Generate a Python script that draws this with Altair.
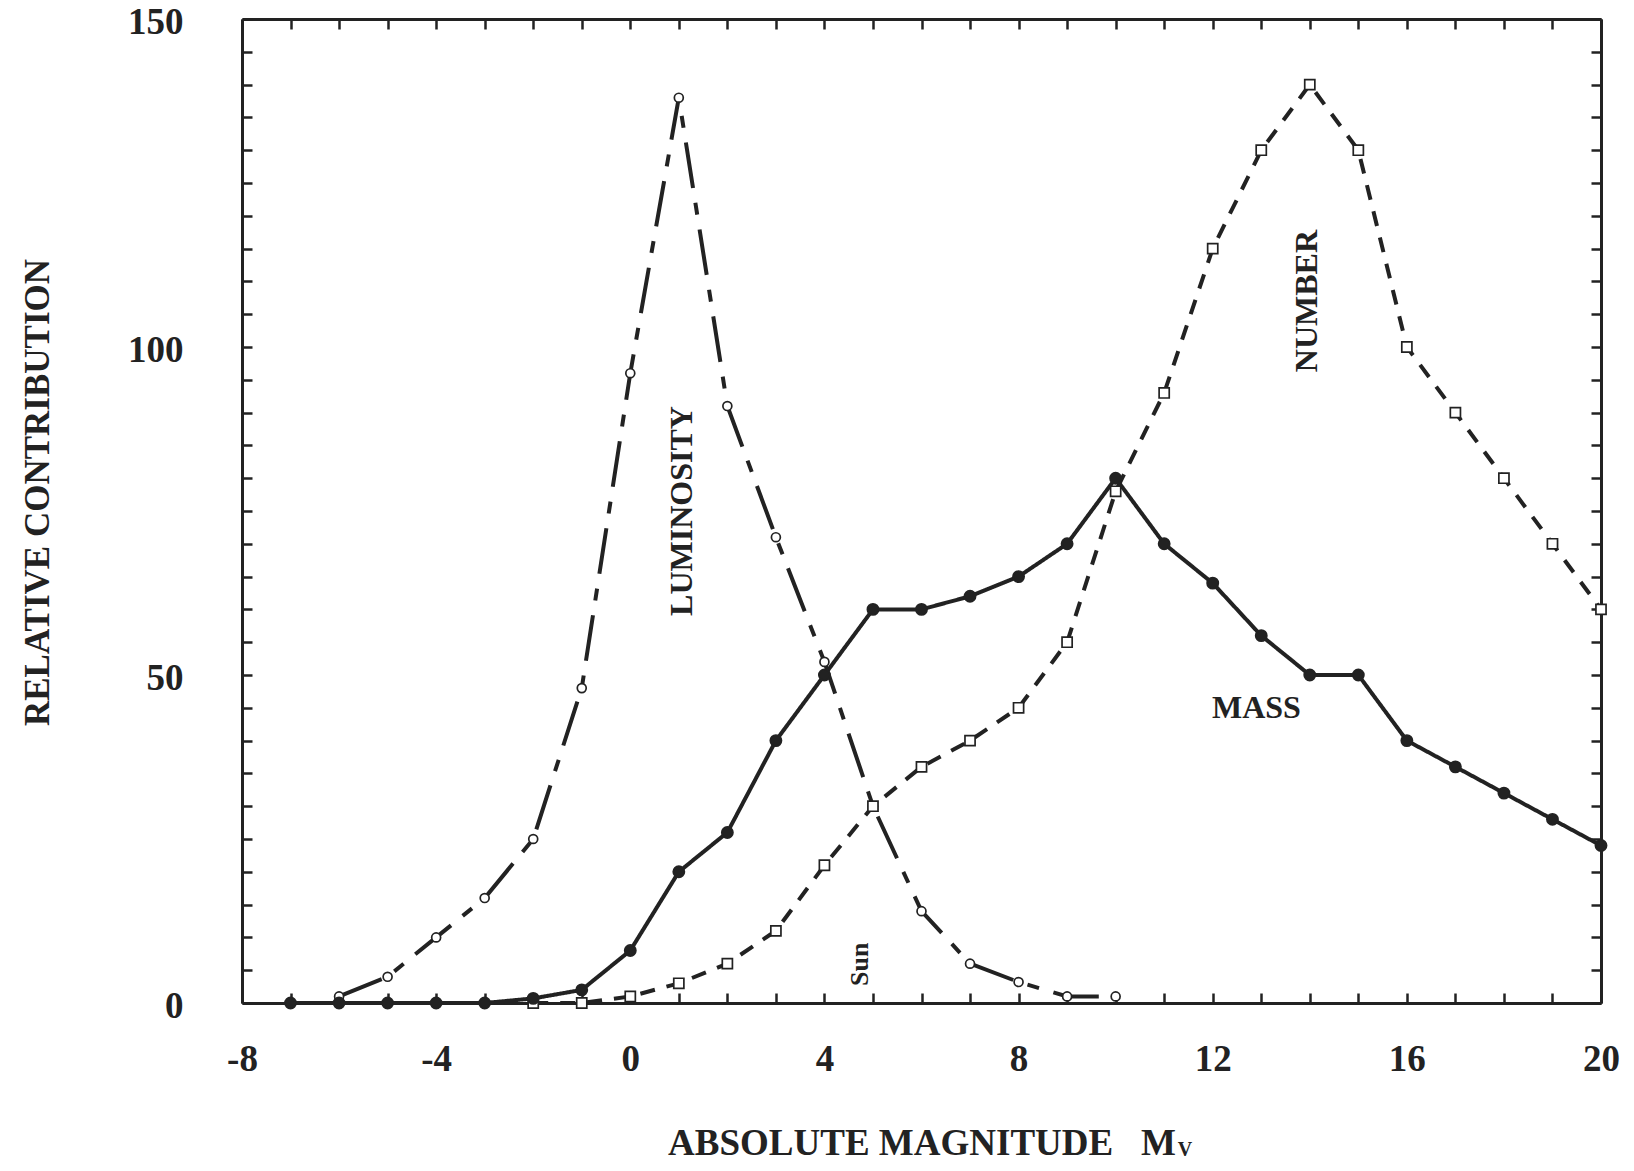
import altair as alt
import pandas as pd

# ---------------- data ----------------
lum_M = [-6, -5, -4, -3, -2, -1, 0, 1, 2, 3, 4, 5, 6, 7, 8, 9, 10]
lum_v = [1, 4, 10, 16, 25, 48, 96, 138, 91, 71, 52, 30, 14, 6, 3.2, 1, 1]

num_M = [-2, -1, 0, 1, 2, 3, 4, 5, 6, 7, 8, 9, 10, 11, 12, 13, 14, 15, 16, 17, 18, 19, 20]
num_v = [0, 0, 1, 3, 6, 11, 21, 30, 36, 40, 45, 55, 78, 93, 115, 130, 140, 130, 100, 90, 80, 70, 60]

mass_M = [-7, -6, -5, -4, -3, -2, -1, 0, 1, 2, 3, 4, 5, 6, 7, 8, 9, 10, 11, 12, 13, 14, 15, 16, 17, 18, 19, 20]
mass_v = [0, 0, 0, 0, 0, 0.7, 2, 8, 20, 26, 40, 50, 60, 60, 62, 65, 70, 80, 70, 64, 56, 50, 50, 40, 36, 32, 28, 24]

series_order = ["Luminosity", "Number", "Mass"]

x_ticks = list(range(-8, 21))
y_ticks = list(range(0, 151, 5))

rot_text = ["LUMINOSITY", "NUMBER"]
rot_M = [1.07, 13.95]
rot_v = [75, 107]

flat_text = ["MASS"]
flat_M = [12.9]
flat_v = [45]

sun_text = ["Sun"]
sun_M = [4.74]
sun_v = [5.9]

x_title = "ABSOLUTE MAGNITUDE\u00a0\u00a0\u00a0M"
x_sub = "V"
y_title = "RELATIVE CONTRIBUTION"

# ---------------- build tables ----------------
rows = []
for m, v in zip(lum_M, lum_v):
    rows.append({"M": m, "v": v, "series": "Luminosity"})
for m, v in zip(num_M, num_v):
    rows.append({"M": m, "v": v, "series": "Number"})
for m, v in zip(mass_M, mass_v):
    rows.append({"M": m, "v": v, "series": "Mass"})
df = pd.DataFrame(rows)

rot_df = pd.DataFrame({"M": rot_M, "v": rot_v, "t": rot_text})
flat_df = pd.DataFrame({"M": flat_M, "v": flat_v, "t": flat_text})
sun_df = pd.DataFrame({"M": sun_M, "v": sun_v, "t": sun_text})

FONT = "Liberation Serif"
INK = "#222222"

x_scale = alt.Scale(domain=[-8, 20], nice=False, zero=False)
y_scale = alt.Scale(domain=[0, 150], nice=False)

common = dict(
    grid=False,
    domainColor=INK, domainWidth=3,
    tickColor=INK, tickWidth=2.5, tickSize={"expr": "-10"},
    labelFont=FONT, labelFontSize=37, labelFontWeight="bold", labelColor=INK,
    titleFont=FONT, titleFontWeight="bold", titleColor=INK,
    labelFlush=False, labelOverlap=False,
)

x_bottom = alt.Axis(
    orient="bottom", values=x_ticks,
    labelExpr="datum.value % 4 === 0 ? toString(datum.value) : ''",
    labelPadding=48, title=x_title, titleFontSize=37, titleY=140, titleBaseline="middle",
    **common,
)
y_left = alt.Axis(
    orient="left", values=y_ticks,
    labelExpr="datum.value % 50 === 0 ? toString(datum.value) : ''",
    labelPadding=69, labelOffset=3,
    title=y_title, titleFontSize=35, titleX=-205, titleY=473, titleBaseline="middle",
    **common,
)
x_top = alt.Axis(orient="top", values=x_ticks, labels=False, title=None, **common)
y_right = alt.Axis(orient="right", values=y_ticks, labels=False, title=None, **common)

lines = alt.Chart(df).mark_line(strokeWidth=4, color=INK).encode(
    x=alt.X("M:Q", scale=x_scale, axis=x_bottom),
    y=alt.Y("v:Q", scale=y_scale, axis=y_left),
    strokeDash=alt.StrokeDash(
        "series:N",
        scale=alt.Scale(domain=series_order, range=[[46, 15, 12, 15], [15, 12], [1, 0]]),
        legend=None,
    ),
    detail="series:N",
)

points = alt.Chart(df).mark_point(filled=True, stroke=INK, strokeWidth=1.7, opacity=1).encode(
    x=alt.X("M:Q", scale=x_scale, axis=x_top),
    y=alt.Y("v:Q", scale=y_scale, axis=y_right),
    shape=alt.Shape("series:N", scale=alt.Scale(domain=series_order, range=["circle", "square", "circle"]), legend=None),
    fill=alt.Fill("series:N", scale=alt.Scale(domain=series_order, range=["white", "white", INK]), legend=None),
    size=alt.Size("series:N", scale=alt.Scale(domain=series_order, range=[80, 125, 105]), legend=None),
)

rot_labels = alt.Chart(rot_df).mark_text(
    angle=270, font=FONT, fontSize=32, fontWeight="bold", color=INK, align="center", baseline="middle"
).encode(
    x=alt.X("M:Q", scale=x_scale, axis=None),
    y=alt.Y("v:Q", scale=y_scale, axis=None),
    text="t:N",
)

flat_labels = alt.Chart(flat_df).mark_text(
    font=FONT, fontSize=32, fontWeight="bold", color=INK, align="center", baseline="middle"
).encode(
    x=alt.X("M:Q", scale=x_scale, axis=None),
    y=alt.Y("v:Q", scale=y_scale, axis=None),
    text="t:N",
)

sun_label = alt.Chart(sun_df).mark_text(
    angle=270, font=FONT, fontSize=26, fontWeight="bold", color=INK, align="center", baseline="middle"
).encode(
    x=alt.X("M:Q", scale=x_scale, axis=None),
    y=alt.Y("v:Q", scale=y_scale, axis=None),
    text="t:N",
)

sub_df = pd.DataFrame({"t": [x_sub]})
sub_label = alt.Chart(sub_df).mark_text(
    font=FONT, fontSize=20, fontWeight="bold", color=INK, align="center", baseline="middle"
).encode(
    x=alt.value(943),
    y=alt.value(1131),
    text="t:N",
)

chart = (
    alt.layer(lines, points, rot_labels, flat_labels, sun_label, sub_label)
    .resolve_axis(x="independent", y="independent")
    .properties(
        width=1359,
        height=984,
        autosize=alt.AutoSizeParams(type="none"),
        padding={"left": 234, "top": 11, "right": 24, "bottom": 160},
        background="white",
    )
    .configure_view(stroke=None)
)

chart.save("out.html", embed_options={"renderer": "svg", "actions": False})
